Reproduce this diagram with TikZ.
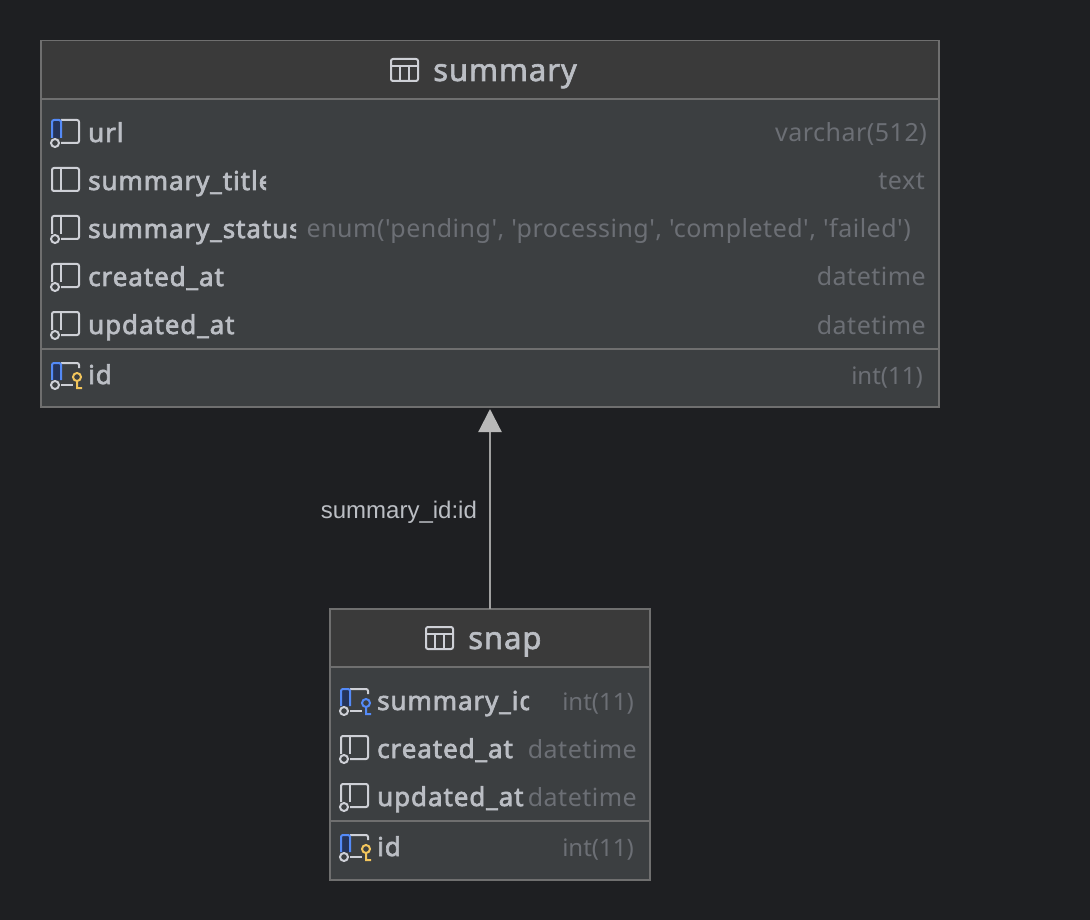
\documentclass[tikz,border=0pt]{standalone}
\usepackage{fontspec}
\usepackage{xcolor}
\usetikzlibrary{arrows.meta,positioning}
\newfontfamily\colfont[FakeBold=2.5,LetterSpace=3.5]{Noto Sans}
\newfontfamily\titlefont[FakeBold=2,LetterSpace=3]{Noto Sans}
\newfontfamily\typefont[LetterSpace=2]{Noto Sans}
\newfontfamily\inttypefont{Noto Sans}
\newfontfamily\labelfont{Liberation Sans}
\definecolor{canvasbg}{HTML}{1E1F22}
\definecolor{headbg}{HTML}{3A3A3A}
\definecolor{bodybg}{HTML}{3C3F41}
\definecolor{edgegray}{HTML}{6F6F6F}
\definecolor{colgray}{HTML}{BBBEC4}
\definecolor{typegray}{HTML}{6C6F75}
\definecolor{icongray}{HTML}{CED0D6}
\definecolor{linegray}{HTML}{A0A0A0}
\definecolor{tipgray}{HTML}{B9B9B9}
\definecolor{bluekey}{HTML}{548AF7}
\definecolor{bluefill}{HTML}{25345A}
\definecolor{goldkey}{HTML}{F2C55C}

% one column name, cut off at its own right limit
\newcommand{\colname}[5]{%
  \begin{scope}
    \clip (#2-2,#3-22) rectangle (#5,#3+22);
    \node[colnode] (#1) at (#2,#3+9) {#4};
  \end{scope}}

\begin{document}
\begin{tikzpicture}[
    x=1pt, y=-1pt,
    >=Stealth,
    tablebox/.style={rectangle, draw=edgegray, line width=1.5pt, fill=bodybg, inner sep=0pt, outer sep=0pt},
    headbox/.style={rectangle, fill=headbg, inner sep=0pt, outer sep=0pt},
    divider/.style={edgegray, line width=2pt},
    titlenode/.style={anchor=base west, inner sep=0pt, text=colgray, font=\titlefont\fontsize{31}{31}\selectfont},
    colnode/.style={anchor=base west, inner sep=0pt, text=colgray, font=\colfont\fontsize{26}{26}\selectfont},
    typenode/.style={anchor=base east, inner sep=0pt, text=typegray, font=\typefont\fontsize{25}{25}\selectfont},
    inttype/.style={typenode, font=\inttypefont\fontsize{24}{24}\selectfont},
    fklabel/.style={anchor=base east, inner sep=0pt, text=colgray, font=\labelfont\fontsize{24}{24}\selectfont},
    iconline/.style={icongray, line width=2pt, rounded corners=2pt},
    iconthin/.style={icongray, line width=2pt},
    relation/.style={draw=linegray, line width=2.2pt, -{Triangle[length=23pt,width=23pt,color=tipgray]}, shorten >=2pt},
    tableicon/.pic={
        \draw[iconline] (0,-11) rectangle (27,11);
        \draw[iconthin] (0,-4) -- (27,-4) (9,-4) -- (9,11) (18,-4) -- (18,11);
    },
    plainicon/.pic={
        \draw[iconline] (0,-12) rectangle (27,11);
        \draw[iconthin] (9,-12) -- (9,11);
    },
    nullicon/.pic={
        \draw[iconline] (0,6) -- (0,-12) -- (27,-12) -- (27,11) -- (9,11);
        \draw[iconthin] (9,-12) -- (9,6);
        \draw[iconthin] (3,11) circle (4);
    },
    blueicon/.pic={
        \draw[iconline] (9,-12) -- (27,-12) -- (27,11) -- (9,11);
        \draw[bluekey, fill=bluefill, line width=2pt, rounded corners=2pt] (0,6) -- (0,-12) -- (9,-12) -- (9,6);
        \draw[iconthin] (3,11) circle (4);
    },
    keyicon/.pic={
        \draw[iconline] (9,-12) -- (27,-12) -- (27,-7);
        \draw[iconline] (9,10) -- (21,10);
        \draw[bluekey, fill=bluefill, line width=2pt, rounded corners=2pt] (0,5) -- (0,-12) -- (9,-12) -- (9,5);
        \draw[iconthin] (3,10) circle (4);
        \draw[goldkey, line width=2pt] (25,2) circle (4) (25,6) -- (25,14) (25,13) -- (30,13);
    },
    fkicon/.pic={
        \draw[iconline] (9,-12) -- (27,-12) -- (27,-7);
        \draw[iconline] (9,10) -- (21,10);
        \draw[bluekey, fill=bluefill, line width=2pt, rounded corners=2pt] (0,5) -- (0,-12) -- (9,-12) -- (9,5);
        \draw[iconthin] (3,10) circle (4);
        \draw[bluekey, line width=2pt] (25,2) circle (4) (25,6) -- (25,14) (25,13) -- (30,13);
    }
]

% Canvas
\fill[canvasbg] (0,0) rectangle (1090,920);
\useasboundingbox (0,0) rectangle (1090,920);

% Table summary
\node[tablebox, minimum width=898pt, minimum height=366pt] (summary) at (490,224) {};
\node[headbox, minimum width=896pt, minimum height=57pt] (summaryhead) at (490,70) {};
\draw[divider] (41,99) -- (939,99);
\draw[divider] (41,349) -- (939,349);
\pic at (391,70) {tableicon};
\node[titlenode] (summarytitle) at (433,81) {summary};

% Columns of summary
\pic at (52,132) {blueicon};
\colname{url}{88}{133}{url}{122}
\node[typenode] (urltype) at (927,142) {varchar(512)};
\pic at (52,180) {plainicon};
\colname{summarytitlecol}{88}{181}{summary\_title}{266}
\node[typenode] (titletype) at (925,190) {text};
\pic at (52,228) {nullicon};
\colname{summarystatus}{88}{229}{summary\_status}{296}
\node[typenode] (statustype) at (911,238) {enum('pending', 'processing', 'completed', 'failed')};
\pic at (52,276) {nullicon};
\colname{sumcreated}{88}{277}{created\_at}{226}
\node[typenode] (sumcreatedtype) at (926,286) {datetime};
\pic at (52,324) {nullicon};
\colname{sumupdated}{88}{325}{updated\_at}{234}
\node[typenode] (sumupdatedtype) at (926,334) {datetime};
\pic at (52,375) {keyicon};
\colname{sumid}{88}{375}{id}{400}
\node[inttype] (sumidtype) at (923,384) {int(11)};

% Table snap
\node[tablebox, minimum width=320pt, minimum height=271pt] (snap) at (490,744.5) {};
\node[headbox, minimum width=318pt, minimum height=57pt] (snaphead) at (490,638) {};
\draw[divider] (330,667) -- (650,667);
\draw[divider] (330,821) -- (650,821);
\pic at (426,638) {tableicon};
\node[titlenode] (snaptitle) at (468,649) {snap};

% Columns of snap
\pic at (341,701) {fkicon};
\colname{snapfk}{377}{701}{summary\_id}{529}
\node[inttype] (snapfktype) at (634,710) {int(11)};
\pic at (341,748) {nullicon};
\colname{snapcreated}{377}{749}{created\_at}{516}
\node[typenode] (snapcreatedtype) at (637,758) {datetime};
\pic at (341,796) {nullicon};
\colname{snapupdated}{377}{797}{updated\_at}{524}
\node[typenode] (snapupdatedtype) at (637,806) {datetime};
\pic at (341,847) {keyicon};
\colname{snapid}{377}{847}{id}{500}
\node[inttype] (snapidtype) at (634,856) {int(11)};

% Relation
\draw[relation] (snap.north) -- node[pos=0.5, fklabel, xshift=-12pt, yshift=-10pt] (fkname) {summary\_id:id} (summary.south);

\end{tikzpicture}
\end{document}
